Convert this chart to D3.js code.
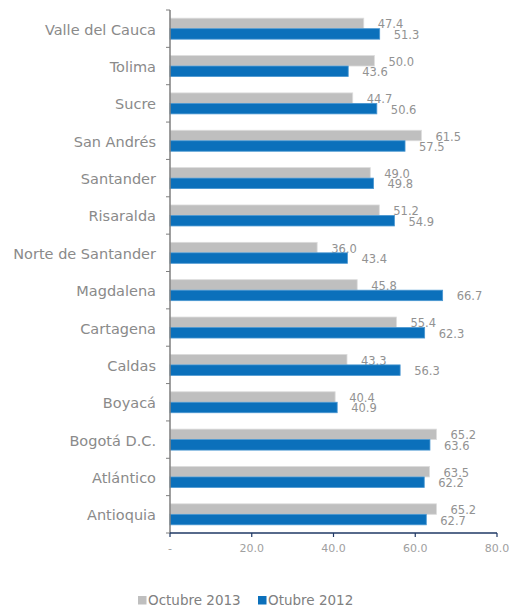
<!DOCTYPE html>
<html><head><meta charset="utf-8">
<script src="https://cdn.jsdelivr.net/npm/d3@7"></script>
<style>body{margin:0;background:#fff;} svg{display:block;}</style>
</head><body>
<svg id="c" width="512" height="609"></svg>
<script>
const categories = ["Valle del Cauca","Tolima","Sucre","San Andrés","Santander","Risaralda","Norte de Santander","Magdalena","Cartagena","Caldas","Boyacá","Bogotá D.C.","Atlántico","Antioquia"];
const oct2013 = [47.4,50.0,44.7,61.5,49.0,51.2,36.0,45.8,55.4,43.3,40.4,65.2,63.5,65.2];
const oct2012 = [51.3,43.6,50.6,57.5,49.8,54.9,43.4,66.7,62.3,56.3,40.9,63.6,62.2,62.7];
const seriesNames = ["Octubre 2013","Otubre 2012"];
const xTicks = [0,20,40,60,80];
const xTickLabels = ["-","20.0","40.0","60.0","80.0"];

const colors = ["#bfbfbf","#0b70bb"];
const font = "DejaVu Sans, sans-serif";
const svg = d3.select("#c");
const pLeft = 170, pRight = 497, pTop = 10, pBottom = 533;

const x = d3.scaleLinear().domain([0,80]).range([pLeft,pRight]);
const y = d3.scaleBand().domain(categories).range([pTop,pBottom]).paddingInner(0).paddingOuter(0);
const inner = d3.scaleBand().domain([0,1]).range([0,y.bandwidth()]).paddingInner(0).paddingOuter(0.78);

const series = [oct2013, oct2012];
series.forEach((vals,si)=>{
  const g = svg.append("g");
  g.selectAll("rect").data(vals).join("rect")
    .attr("x", x(0))
    .attr("y",(d,i)=>y(categories[i])+inner(si))
    .attr("width", d=>x(d)-x(0))
    .attr("height", inner.bandwidth())
    .attr("fill", colors[si])
    .attr("stroke", si===0 ? "#dcdcdc" : "#4a97d1")
    .attr("stroke-width", 0.8);
  g.selectAll("text").data(vals).join("text")
    .attr("x", d=>x(d)+14)
    .attr("y",(d,i)=>y(categories[i])+inner(si)+inner.bandwidth()/2+5)
    .attr("font-family", font).attr("font-size", 11.5)
    .attr("fill","#929292")
    .text(d=>d.toFixed(1));
});

// y axis
svg.append("line").attr("x1",pLeft).attr("x2",pLeft).attr("y1",pTop).attr("y2",pBottom)
  .attr("stroke","#7f7f7f").attr("stroke-width",1.5);
const yTickPos = categories.map(c=>y(c)).concat([pBottom]);
svg.selectAll(".yt").data(yTickPos).join("line").attr("class","yt")
  .attr("x1",pLeft-4).attr("x2",pLeft).attr("y1",d=>d).attr("y2",d=>d)
  .attr("stroke","#7f7f7f").attr("stroke-width",1);
svg.selectAll(".yl").data(categories).join("text").attr("class","yl")
  .attr("x",156).attr("y",c=>y(c)+y.bandwidth()/2+6)
  .attr("text-anchor","end").attr("font-family",font).attr("font-size",14.5)
  .attr("fill","#8a8a8a").text(c=>c);

// x axis
svg.append("line").attr("x1",pLeft).attr("x2",pRight).attr("y1",pBottom).attr("y2",pBottom)
  .attr("stroke","#1f3864").attr("stroke-width",1.5);
svg.selectAll(".xt").data(xTicks).join("line").attr("class","xt")
  .attr("x1",d=>x(d)).attr("x2",d=>x(d)).attr("y1",pBottom).attr("y2",pBottom+4)
  .attr("stroke","#1f3864").attr("stroke-width",1.2);
svg.selectAll(".xl").data(xTicks).join("text").attr("class","xl")
  .attr("x",d=>x(d)).attr("y",pBottom+19)
  .attr("text-anchor","middle").attr("font-family",font).attr("font-size",11)
  .attr("fill","#a0a0a0").text((d,i)=>xTickLabels[i]);

// legend
const legX = [138, 258];
seriesNames.forEach((n,i)=>{
  svg.append("rect").attr("x",legX[i]).attr("y",596).attr("width",8.5).attr("height",8.5).attr("fill",colors[i]);
  svg.append("text").attr("x",legX[i]+10).attr("y",605).attr("font-family",font).attr("font-size",13.5)
    .attr("fill","#808080").text(n);
});
</script>
</body></html>
